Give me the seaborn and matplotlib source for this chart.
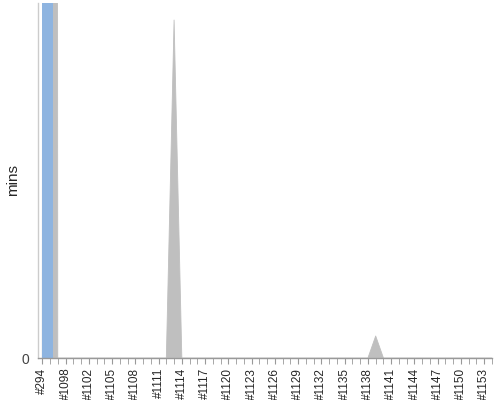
import numpy as np
import pandas as pd
import matplotlib
matplotlib.use('Agg')
import matplotlib.pyplot as plt
import seaborn as sns

# build labels (x categories)
builds = ['#294', '#1096', '#1097', '#1098', '#1099', '#1101'] + ['#%d' % b for b in range(1102, 1155)]

# queue minutes per build (gray area), mostly zero
queue_mins = [0] * len(builds)
queue_mins[1] = 4000      # far above the visible range
queue_mins[17] = 95.2     # #1113
queue_mins[43] = 6.2      # #1139

# build minutes (blue column), only the first build
build_mins = [0] * len(builds)
build_mins[0] = 5000

sns.set_style('white')
plt.rcParams['font.family'] = ['Liberation Sans', 'DejaVu Sans']

df = pd.DataFrame({'build': builds, 'queue': queue_mins, 'mins': build_mins})
df['pos'] = np.arange(len(df))

fig = plt.figure(figsize=(5, 4), dpi=100)
ax = fig.add_axes([0.076, 0.105, 0.908, 0.8875])

ax.fill_between(df['pos'], 0, df['queue'], color='#bfbfbf', lw=0, zorder=1)
sns.lineplot(data=df, x='pos', y='queue', color='#bfbfbf', lw=0.6, ax=ax, zorder=1)

blue = df[df['mins'] > 0]
ax.bar(blue['pos'], blue['mins'], width=1.4, align='edge', color='#8eb4e0', lw=0, zorder=2)

ax.set_xlim(-0.55, 58)
ax.set_ylim(0, 100)

ax.set_xticks(df['pos'][::3])
ax.set_xticklabels(df['build'][::3], rotation=90, fontsize=8.5)
ax.set_xticks(df['pos'], minor=True)
ax.tick_params(axis='x', which='both', length=4, color='#999999', pad=3, bottom=True)
ax.set_yticks([0])
ax.set_yticklabels(['0'], fontsize=10, color='#444444')
ax.tick_params(axis='y', length=0, pad=6)
ax.set_xlabel('')
ax.set_ylabel('mins', fontsize=11)
ax.yaxis.set_label_coords(-0.04, 0.5)

for s in ['top', 'right']:
    ax.spines[s].set_visible(False)
ax.spines['left'].set_color('#cccccc')
ax.spines['left'].set_linewidth(1)
ax.spines['bottom'].set_color('#999999')
ax.spines['bottom'].set_linewidth(1)

fig.savefig('out.png', dpi=100)
